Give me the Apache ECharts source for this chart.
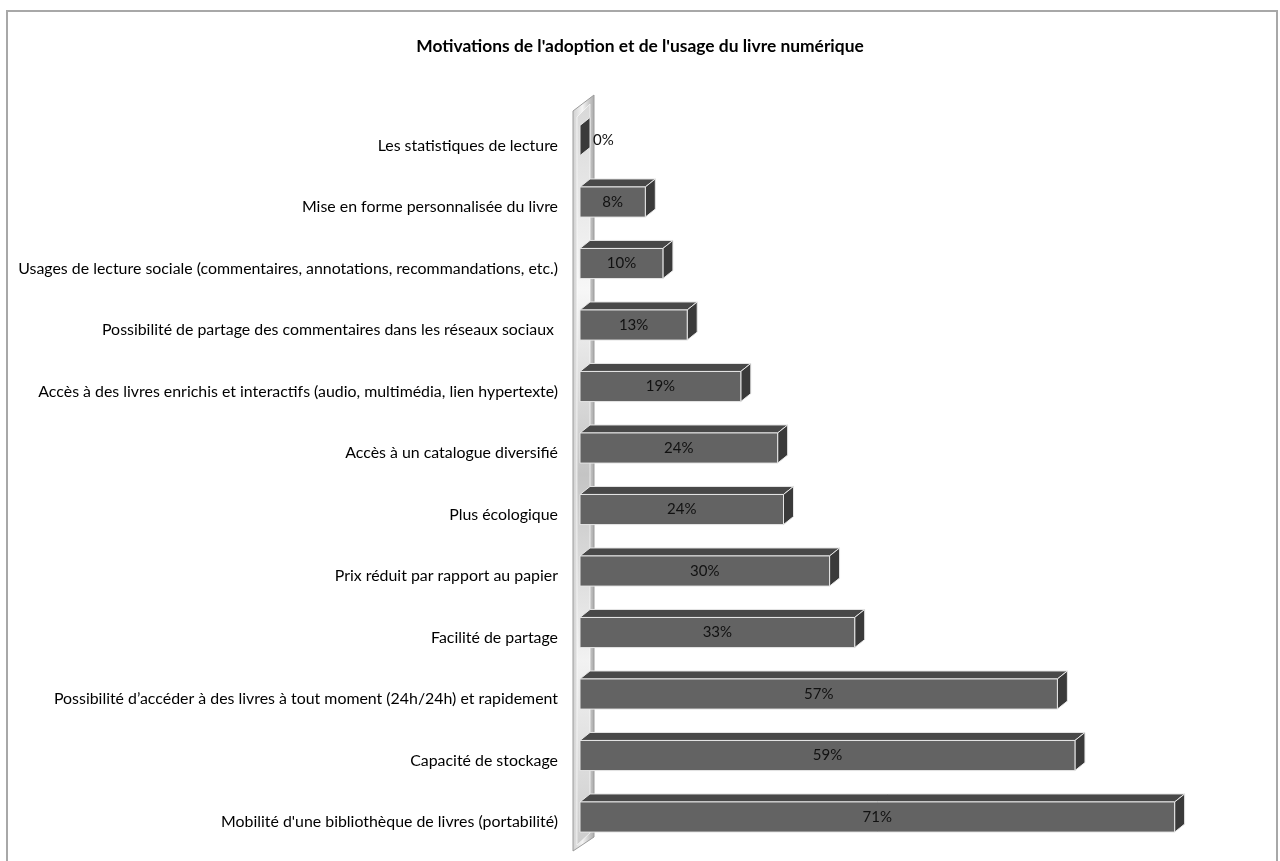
<!DOCTYPE html>
<html>
<head>
<meta charset="utf-8">
<title>Motivations livre numérique</title>
<script src="https://cdn.jsdelivr.net/npm/echarts@6/dist/echarts.min.js"></script>
<style>
    html, body {
        margin: 0;
        padding: 0;
        background: #fff;
    }
    #chart {
        width: 1280px;
        height: 861px;
    }
</style>
</head>
<body>
<div id="chart"></div>
<script>
// categories, top to bottom
const categories = [
    'Les statistiques de lecture',
    'Mise en forme personnalisée du livre',
    'Usages de lecture sociale (commentaires, annotations, recommandations, etc.)',
    'Possibilité de partage des commentaires dans les réseaux sociaux ',
    'Accès à des livres enrichis et interactifs (audio, multimédia, lien hypertexte)',
    'Accès à un catalogue diversifié',
    'Plus écologique',
    'Prix réduit par rapport au papier',
    'Facilité de partage',
    'Possibilité d’accéder à des livres à tout moment (24h/24h) et rapidement',
    'Capacité de stockage',
    'Mobilité d\'une bibliothèque de livres (portabilité)'
];
// percentages
const values = [0, 7.8, 9.9, 12.8, 19.2, 23.6, 24.3, 29.8, 32.8, 57, 59.1, 71];

const titleText = 'Motivations de l\'adoption et de l\'usage du livre numérique';
const font = 'Lato, "Open Sans", sans-serif';

// 3d offsets of the boxes
const DX = 10;
const DY = 8;

const chart = echarts.init(document.getElementById('chart'));

const renderBar = (params, api) => {
    const idx = api.value(1);
    const v = api.value(0);
    const end = api.coord([v, idx]);
    const start = api.coord([0, idx]);
    const band = api.size([0, 1])[1];
    const h = band * 0.49;
    const yTop = end[1] - band * 0.33;
    const yBot = yTop + h;
    const x0 = start[0];
    const x1 = end[0];
    const edge = { stroke: '#e6e6e6', lineWidth: 1 };
    const children = [
        {
            type: 'polygon',
            shape: { points: [[x0, yTop], [x0 + DX, yTop - DY], [x1 + DX, yTop - DY], [x1, yTop]] },
            style: Object.assign({ fill: '#484848' }, edge)
        },
        {
            type: 'polygon',
            shape: { points: [[x1, yTop], [x1 + DX, yTop - DY], [x1 + DX, yBot - DY], [x1, yBot]] },
            style: Object.assign({ fill: '#3a3a3a' }, edge)
        }
    ];
    if (x1 - x0 > 0.5) {
        children.push({
            type: 'rect',
            shape: { x: x0, y: yTop, width: x1 - x0, height: h },
            style: Object.assign({ fill: '#636363' }, edge)
        });
    }
    const label = Math.round(v) + '%';
    children.push({
        type: 'text',
        style: {
            text: label,
            x: v > 0 ? (x0 + x1) / 2 : x1 + DX + 3,
            y: yTop + h / 2,
            align: v > 0 ? 'center' : 'left',
            verticalAlign: 'middle',
            fill: '#111',
            font: '15px ' + font
        }
    });
    return { type: 'group', children: children };
};

// the grey side wall behind the bars
const renderWall = (params, api) => {
    const cs = params.coordSys;
    const x0 = api.coord([0, 0])[0];
    const xl = x0 - 7;
    const xr = x0 + 14;
    const top = cs.y;
    const bot = cs.y + cs.height;
    return {
        type: 'group',
        children: [
            {
                type: 'polygon',
                shape: { points: [[xl, top - 4], [xr, top - 20], [xr, bot - 16], [xl, bot - 2]] },
                style: {
                    fill: new echarts.graphic.LinearGradient(0, 0, 1, 0, [
                        { offset: 0, color: '#cfcfcf' },
                        { offset: 0.45, color: '#f4f4f4' },
                        { offset: 1, color: '#a9a9a9' }
                    ]),
                    stroke: '#9c9c9c',
                    lineWidth: 1
                }
            },
            {
                type: 'polygon',
                shape: { points: [[xl + 4, top + 2], [xr - 4, top - 11], [xr - 4, bot - 20], [xl + 4, bot - 8]] },
                style: {
                    fill: new echarts.graphic.LinearGradient(0, 0, 0, 1, [
                        { offset: 0, color: '#d8d8d8' },
                        { offset: 0.25, color: '#f7f7f7' },
                        { offset: 0.5, color: '#c4c4c4' },
                        { offset: 0.75, color: '#f2f2f2' },
                        { offset: 1, color: '#cccccc' }
                    ]),
                    stroke: 'rgba(255,255,255,0.6)',
                    lineWidth: 1
                }
            }
        ]
    };
};

const option = {
    backgroundColor: '#fff',
    animation: false,
    title: {
        text: titleText,
        left: 'center',
        top: 33,
        textStyle: {
            color: '#000',
            fontWeight: 'bold',
            fontSize: 17.4,
            fontFamily: font
        }
    },
    graphic: [
        {
            type: 'rect',
            shape: { x: 7, y: 11, width: 1270, height: 880 },
            style: { fill: 'none', stroke: '#a8a8a8', lineWidth: 2 },
            silent: true
        }
    ],
    grid: {
        left: 580,
        right: 30,
        top: 115,
        bottom: 8
    },
    xAxis: {
        type: 'value',
        min: 0,
        max: 80,
        show: false
    },
    yAxis: {
        type: 'category',
        data: categories,
        inverse: true,
        axisLine: { show: false },
        axisTick: { show: false },
        axisLabel: {
            margin: 22,
            color: '#000',
            fontSize: 15.9,
            fontFamily: font
        }
    },
    series: [
        {
            type: 'custom',
            renderItem: renderWall,
            data: [[0, 0]],
            encode: { x: 0, y: 1 },
            silent: true,
            z: 1
        },
        {
            type: 'custom',
            renderItem: renderBar,
            data: values.map((v, i) => [v, i]),
            encode: { x: 0, y: 1 },
            z: 2
        }
    ]
};

chart.setOption(option);
</script>
</body>
</html>
